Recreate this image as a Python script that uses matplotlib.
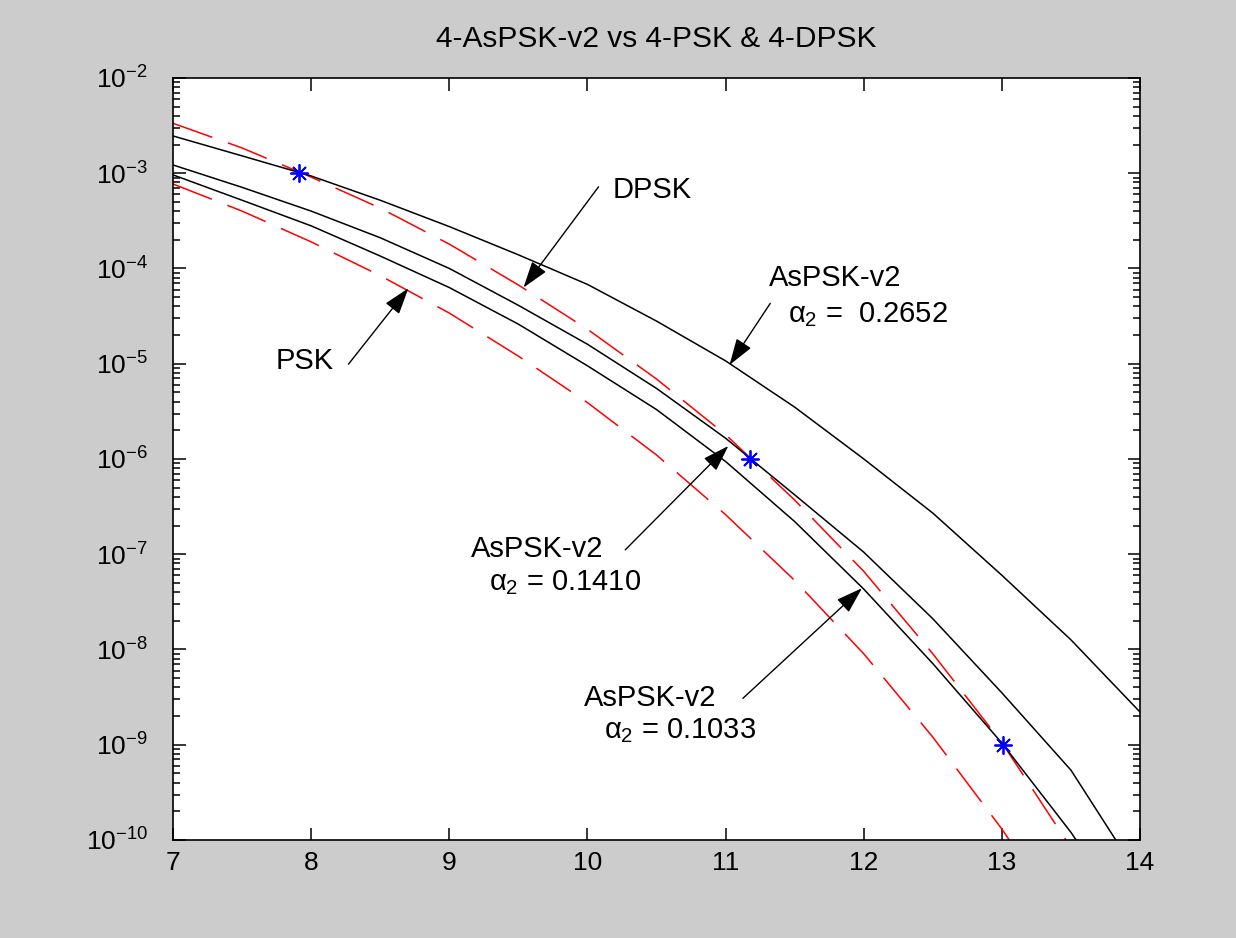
import matplotlib
matplotlib.use("Agg")
import matplotlib.pyplot as plt

# Eb/N0 grid (dB) and BER values
snr_db = [7.0, 7.5, 8.0, 8.5, 9.0, 9.5, 10.0, 10.5, 11.0, 11.5, 12.0, 12.5, 13.0, 13.5, 14.0]

psk = [7.7e-4, 4.0e-4, 1.9e-4, 8.4e-5, 3.4e-5, 1.2e-5, 3.9e-6, 1.1e-6, 2.6e-7,
       5.3e-8, 9.0e-9, 1.2e-9, 1.3e-10, 1.1e-11]
dpsk = [3.34e-3, 1.84e-3, 9.1e-4, 4.3e-4, 1.8e-4, 6.7e-5, 2.3e-5, 6.9e-6, 1.8e-6,
        3.7e-7, 6.6e-8, 9.0e-9, 1.05e-9, 8.3e-11]
aspsk_2652 = [2.46e-3, 1.52e-3, 9.35e-4, 5.2e-4, 2.75e-4, 1.39e-4, 6.8e-5, 2.8e-5,
               1.07e-5, 3.5e-6, 1.0e-6, 2.7e-7, 6.0e-8, 1.26e-8, 2.2e-9]
aspsk_1410 = [1.22e-3, 7.1e-4, 4.0e-4, 2.1e-4, 1.0e-4, 4.1e-5, 1.6e-5, 5.5e-6,
              1.65e-6, 4.2e-7, 1.05e-7, 2.1e-8, 3.5e-9, 5.4e-10, 4.0e-11]
aspsk_1033 = [9.6e-4, 5.2e-4, 2.8e-4, 1.35e-4, 6.3e-5, 2.6e-5, 9.5e-6, 3.3e-6,
              9.4e-7, 2.2e-7, 4.3e-8, 7.1e-9, 1.04e-9, 1.2e-10, 1.0e-11]

# target points where each AsPSK curve meets DPSK
star_x = [7.915, 11.178, 13.01]
star_y = [1e-3, 1e-6, 1e-9]

plt.rcParams["font.family"] = ["Liberation Sans", "DejaVu Sans"]
plt.rcParams["mathtext.fontset"] = "custom"
plt.rcParams["mathtext.rm"] = "Liberation Sans"
plt.rcParams["mathtext.it"] = "Liberation Sans"
plt.rcParams["lines.scale_dashes"] = False

fig = plt.figure(figsize=(12.36, 9.38), dpi=100, facecolor="#cccccc")
ax = fig.add_axes([0.1400, 0.1045, 0.7824, 0.8124])
ax.set_facecolor("white")

red_dash = dict(color="red", lw=1.1, dashes=(30, 12))
ax.semilogy(snr_db[:len(psk)], psk, **red_dash)
ax.semilogy(snr_db[:len(dpsk)], dpsk, **red_dash)
for curve in (aspsk_2652, aspsk_1410, aspsk_1033):
    ax.semilogy(snr_db[:len(curve)], curve, color="black", lw=1.1)
ax.plot(star_x, star_y, linestyle="none", marker=(8, 2, 0), markersize=13,
        markeredgewidth=1.3, color="blue")

ax.set_xlim(7, 14)
ax.set_ylim(1e-10, 1e-2)
ax.set_xticks(range(7, 15))
ax.tick_params(which="both", direction="in", top=True, right=True, labelsize=19, width=1.1)
ax.tick_params(which="major", length=9)
ax.tick_params(which="minor", length=5)
ax.tick_params(axis="y", pad=18)
ax.tick_params(axis="x", pad=8)
for s in ax.spines.values():
    s.set_linewidth(1.2)

ax.set_title("4-AsPSK-v2 vs 4-PSK & 4-DPSK", fontsize=21.5, pad=22)

arrow = dict(arrowstyle="-|>,head_length=0.55,head_width=0.18", color="black",
             lw=1.0, mutation_scale=30, shrinkA=0, shrinkB=0)
fs = 21

# DPSK
ax.text(10.18, 6.7e-4, "DPSK", fontsize=fs, ha="left", va="center")
ax.annotate("", xy=(9.537, 6.3e-5), xytext=(10.08, 7.2e-4), arrowprops=arrow)

# PSK
ax.text(7.746, 1.07e-5, "PSK", fontsize=fs, ha="left", va="center")
ax.annotate("", xy=(8.704, 6.2e-5), xytext=(8.27, 9.9e-6), arrowprops=arrow)

# alpha2 = 0.2652
ax.text(11.311, 7.9e-5, "AsPSK-v2", fontsize=fs, ha="left", va="center")
ax.text(11.455, 2.76e-5, r"$\alpha_2$ =  0.2652", fontsize=fs, ha="left", va="baseline")
ax.annotate("", xy=(11.028, 9.7e-6), xytext=(11.323, 4.3e-5), arrowprops=arrow)

# alpha2 = 0.1410
ax.text(9.156, 1.13e-7, "AsPSK-v2", fontsize=fs, ha="left", va="center")
ax.text(9.290, 4.2e-8, r"$\alpha_2$ = 0.1410", fontsize=fs, ha="left", va="baseline")
ax.annotate("", xy=(11.02, 1.37e-6), xytext=(10.273, 1.11e-7), arrowprops=arrow)

# alpha2 = 0.1033
ax.text(9.971, 3.13e-9, "AsPSK-v2", fontsize=fs, ha="left", va="center")
ax.text(10.116, 1.18e-9, r"$\alpha_2$ = 0.1033", fontsize=fs, ha="left", va="baseline")
ax.annotate("", xy=(11.987, 4.4e-8), xytext=(11.125, 3.07e-9), arrowprops=arrow)

fig.savefig("out.png", dpi=100, facecolor=fig.get_facecolor())
